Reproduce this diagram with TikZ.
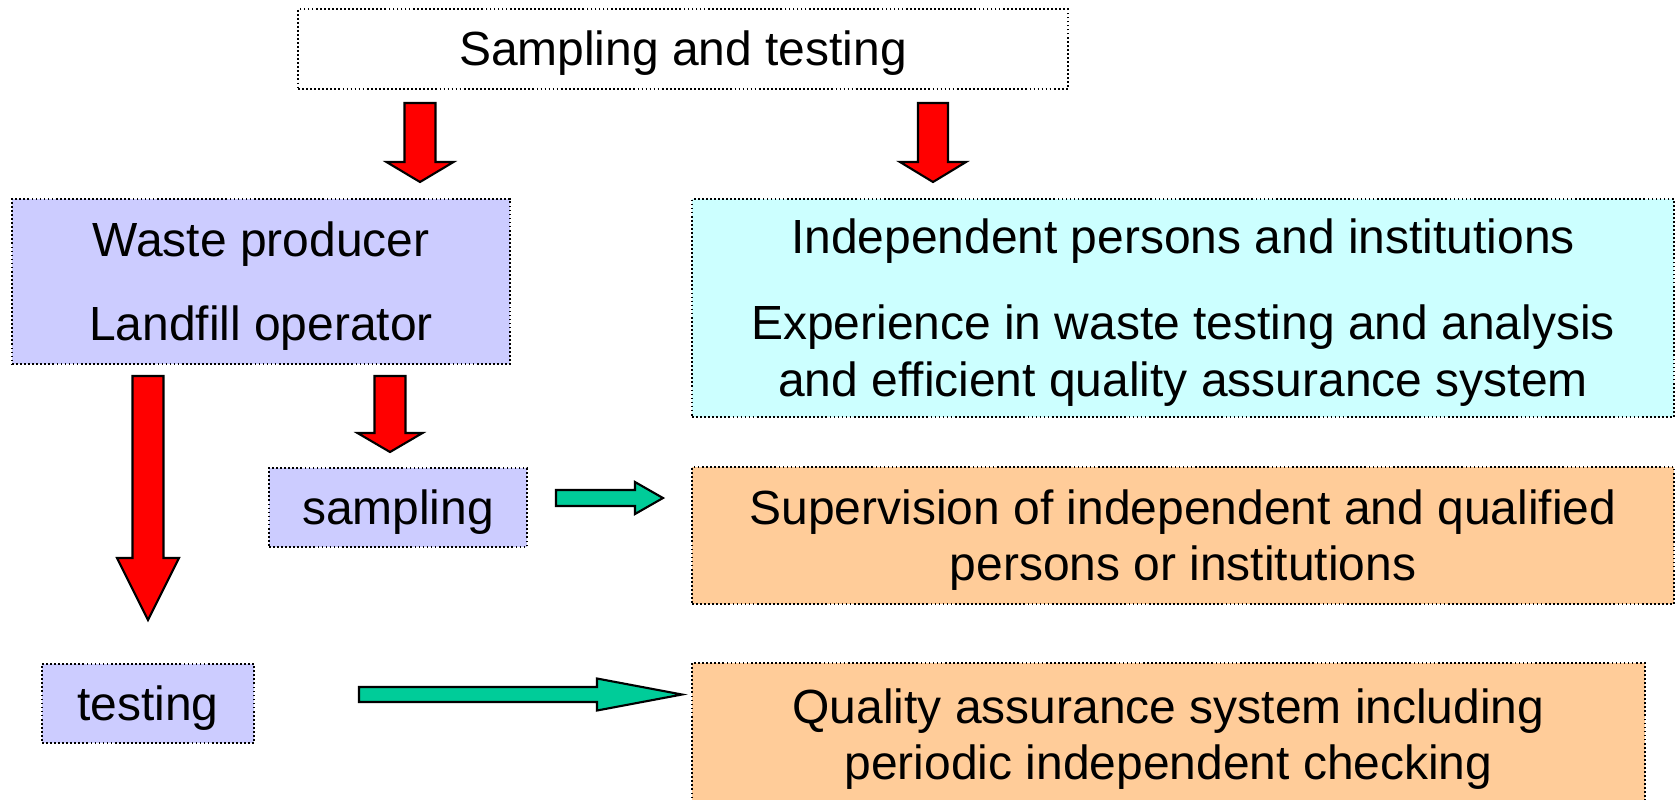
\documentclass[tikz,border=0pt]{standalone}
\usepackage{fontspec}
\setmainfont{Liberation Sans}
\definecolor{lavbox}{HTML}{CCCCFF}
\definecolor{cyanbox}{HTML}{CCFFFF}
\definecolor{orangebox}{HTML}{FFCC99}
\definecolor{greenA}{HTML}{00CC99}
\newcommand\tstrut{\rule{0pt}{25pt}}
\tikzset{
  box/.style={draw=black, line width=1pt, dash pattern=on 1pt off 1.3pt, inner sep=0pt,
    align=center, font=\fontsize{27.3}{32}\selectfont},
  whitebox/.style={box, fill=white},
  lavbox/.style={box, fill=lavbox},
  cyanbox/.style={box, fill=cyanbox},
  orangebox/.style={box, fill=orangebox},
  redblk/.style={fill=red, draw=black, line width=1.2pt, line join=miter},
  greenblk/.style={fill=greenA, draw=black, line width=1.2pt, line join=miter},
}
\newcommand\vblock[6]{% cx, top, headstart, tip, shafthalf, headhalf
  \draw[redblk] ({#1-#5},#2) -- ({#1+#5},#2) -- ({#1+#5},#3) -- ({#1+#6},#3) -- (#1,#4)
    -- ({#1-#6},#3) -- ({#1-#5},#3) -- cycle;}
\newcommand\hblock[6]{% cy, left, headstart, tip, shafthalf, headhalf
  \draw[greenblk] (#2,{#1-#5}) -- (#3,{#1-#5}) -- (#3,{#1-#6}) -- (#4,#1) -- (#3,{#1+#6})
    -- (#3,{#1+#5}) -- (#2,{#1+#5}) -- cycle;}
\begin{document}
\begin{tikzpicture}[x=0.02cm, y=-0.02cm]
\clip (0,0) rectangle (1679,799);
\fill[white] (0,0) rectangle (1679,799);

\node[whitebox, minimum width=15.4cm, minimum height=1.6cm] (top) at (683,49) {\tstrut Sampling and testing};
\node[lavbox, minimum width=9.96cm, minimum height=3.3cm] (waste) at (261,281.5)
  {\tstrut Waste producer\\[16pt]Landfill operator};
\node[cyanbox, minimum width=19.64cm, minimum height=4.36cm] (indep) at (1183,308)
  {\tstrut Independent persons and institutions\\[17pt]Experience in waste testing and analysis\\and efficient quality assurance system};
\node[lavbox, minimum width=5.16cm, minimum height=1.58cm] (sampling) at (398,507.5) {\tstrut sampling};
\node[orangebox, minimum width=19.64cm, minimum height=2.74cm] (superv) at (1183,535.5)
  {\tstrut Supervision of independent and qualified\\persons or institutions};
\node[lavbox, minimum width=4.24cm, minimum height=1.58cm] (testing) at (148,703.5) {\tstrut testing};
\node[orangebox, minimum width=19.06cm, minimum height=2.86cm] (quality) at (1168.5,734.5)
  {\tstrut Quality assurance system including\\periodic independent checking};

% red block arrows
\vblock{420}{103}{162}{182}{15.5}{33.5}
\vblock{933}{103}{162}{182}{15}{33}
\vblock{148}{376}{558}{620}{15.5}{31}
\vblock{390}{376}{433}{452}{15.5}{32.5}

% green block arrows
\hblock{498}{556}{635}{663}{8}{16}
\hblock{694.5}{359}{597}{682}{7.5}{16}
\end{tikzpicture}
\end{document}
